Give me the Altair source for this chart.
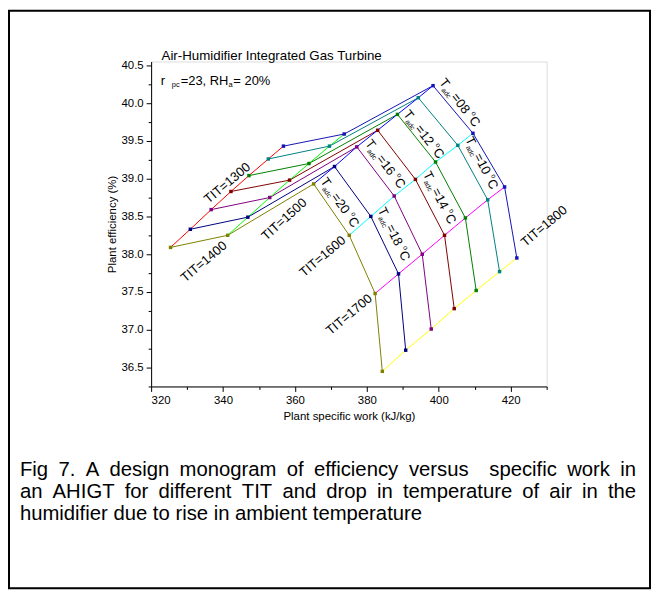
import altair as alt
import pandas as pd

# ---------------- data ----------------
tit_levels = [1300, 1400, 1500, 1600, 1700, 1800]
tadc_levels = [8, 10, 12, 14, 16, 18, 20]

# plant specific work (kJ/kg) and efficiency (%) per TIT, ordered by T_adc 8..20
work_1300 = [356.8, 352.6, 347.2, 342.2, 336.7, 330.9, 325.4]
eff_1300 = [39.43, 39.26, 39.04, 38.83, 38.59, 38.33, 38.09]
work_1400 = [373.7, 369.6, 363.9, 358.5, 353.0, 346.9, 341.3]
eff_1400 = [39.59, 39.43, 39.20, 38.98, 38.75, 38.49, 38.25]
work_1500 = [398.4, 394.3, 388.5, 383.0, 377.2, 371.0, 365.2]
eff_1500 = [40.23, 40.07, 39.85, 39.64, 39.42, 39.16, 38.93]
work_1600 = [409.5, 405.3, 399.1, 393.5, 387.6, 381.1, 375.1]
eff_1600 = [39.60, 39.44, 39.22, 38.99, 38.77, 38.50, 38.25]
work_1700 = [418.3, 413.6, 407.4, 401.6, 395.4, 388.8, 382.3]
eff_1700 = [38.89, 38.72, 38.48, 38.25, 38.00, 37.74, 37.48]
work_1800 = [421.7, 416.9, 410.4, 404.3, 397.9, 390.8, 384.3]
eff_1800 = [37.95, 37.77, 37.52, 37.28, 37.01, 36.73, 36.45]

tit_colors = ["#FF0000", "#00FF00", "#0000FF", "#00FFFF", "#FF00FF", "#FFFF00"]
tadc_colors = ["#1414B4", "#008080", "#008000", "#800000", "#800080", "#000080", "#808000"]

# label annotations (data coordinates)
tit_label_work = [341.2, 334.7, 357.0, 367.7, 375.1, 429.3]
tit_label_eff = [38.94, 37.90, 38.46, 37.97, 37.20, 38.37]
tit_label_angle = [320, 320, 318, 320, 320, 320]

tadc_label_work = [401.0, 408.4, 391.0, 396.7, 380.4, 384.1, 368.0]
tadc_label_eff = [40.31, 39.55, 39.89, 39.09, 39.50, 38.61, 39.00]
tadc_label_angle = [52, 63, 52, 63, 53, 64, 55]

title_line = "Air-Humidifier Integrated Gas Turbine"
caption_lines = [
    "Fig 7. A design monogram of efficiency versus  specific work in",
    "an AHIGT for different TIT and drop in temperature of air in the",
    "humidifier due to rise in ambient temperature",
]
caption_justify = [True, True, False]

FONT = "Liberation Sans"

# ---------------- tables ----------------
works = [work_1300, work_1400, work_1500, work_1600, work_1700, work_1800]
effs = [eff_1300, eff_1400, eff_1500, eff_1600, eff_1700, eff_1800]
rows = []
for i, t in enumerate(tit_levels):
    for j, a in enumerate(tadc_levels):
        rows.append({"tit": t, "tadc": a, "tit_key": f"TIT{t}", "tadc_key": f"T{a:02d}",
                     "work": works[i][j], "eff": effs[i][j]})
df = pd.DataFrame(rows)
tit_keys = [f"TIT{t}" for t in tit_levels]
tadc_keys = [f"T{a:02d}" for a in tadc_levels]

df_tit_lab = pd.DataFrame({"work": tit_label_work, "eff": tit_label_eff,
                           "angle": tit_label_angle,
                           "label": [f"TIT={t}" for t in tit_levels]})
df_tadc_lab = pd.DataFrame({"work": tadc_label_work, "eff": tadc_label_eff,
                            "angle": tadc_label_angle,
                            "num": [f"={a:02d}" for a in tadc_levels]})
df_head = pd.DataFrame({"work": [322.9], "eff": [40.625]})
df_sub = pd.DataFrame({"work": [322.7], "eff": [40.29]})
df_one = pd.DataFrame({"k": [0]})

# ---------------- scales & axes ----------------
xs = alt.Scale(domain=[320, 430], nice=False, zero=False)
ys = alt.Scale(domain=[36.25, 40.55], nice=False, zero=False)

x_axis = alt.Axis(
    values=list(range(320, 431, 10)),
    labelExpr="datum.value % 20 == 0 ? datum.label : ''",
    tickSize={"condition": {"test": "datum.value % 20 != 0", "value": 3}, "value": 5},
    labelFontSize=11.5, titleFontSize=11.5, labelFont=FONT, titleFont=FONT,
    titleFontWeight="normal", labelColor="black", titleColor="black",
    domainColor="black", tickColor="black", grid=False, labelPadding=3,
    titlePadding=5, labelOverlap=False, format="d",
)
y_axis = alt.Axis(
    values=[36.25 + 0.25 * k for k in range(18)],
    labelExpr="(datum.value * 2) % 1 == 0 ? format(datum.value, '.1f') : ''",
    tickSize={"condition": {"test": "(datum.value * 2) % 1 != 0", "value": 3}, "value": 5},
    labelFontSize=11.5, titleFontSize=11.5, labelFont=FONT, titleFont=FONT,
    titleFontWeight="normal", labelColor="black", titleColor="black",
    domainColor="black", tickColor="black", grid=False, labelPadding=3,
    titlePadding=3, labelOverlap=False,
)
X = alt.X("work:Q", scale=xs, axis=x_axis, title="Plant specific work (kJ/kg)")
Y = alt.Y("eff:Q", scale=ys, axis=y_axis, title="Plant efficiency (%)")

# ---------------- layers ----------------
tit_lines = alt.Chart(df).mark_line(strokeWidth=1, clip=False).encode(
    x=X, y=Y,
    color=alt.Color("tit_key:N", scale=alt.Scale(domain=tit_keys, range=tit_colors), legend=None),
    detail="tit_key:N", order="tadc:Q",
)
tadc_lines = alt.Chart(df).mark_line(strokeWidth=1, clip=False).encode(
    x=X, y=Y,
    color=alt.Color("tadc_key:N", scale=alt.Scale(domain=tadc_keys, range=tadc_colors), legend=None),
    detail="tadc_key:N", order="tit:Q",
)
pts = alt.Chart(df).mark_square(size=12, opacity=1).encode(
    x=X, y=Y,
    color=alt.Color("tadc_key:N", scale=alt.Scale(domain=tadc_keys, range=tadc_colors), legend=None),
)

tit_text = alt.Chart(df_tit_lab).mark_text(
    font=FONT, fontSize=13, align="center", baseline="middle", color="black"
).encode(x=X, y=Y, text="label:N", angle=alt.Angle("angle:Q", scale=None))

def piece(text=None, field=None, size=13, dx=0, dy=0):
    kw = dict(font=FONT, fontSize=size, align="left", baseline="alphabetic",
              color="black", dx=dx, dy=dy)
    if text is not None:
        kw["text"] = text
    m = alt.Chart(df_tadc_lab).mark_text(**kw)
    enc = dict(x=X, y=Y, angle=alt.Angle("angle:Q", scale=None))
    if field is not None:
        enc["text"] = alt.Text(field)
    return m.encode(**enc)

B = 4.6
tadc_text = [
    piece(text="T", dx=0, dy=B),
    piece(text="adc", size=7, dx=7.5, dy=B + 3),
    piece(field="num:N", dx=19, dy=B),
    piece(text="o", size=7, dx=44.5, dy=B - 6.5),
    piece(text="C", dx=48.5, dy=B),
]

def htext(df_, text, size, dx=0, dy=0):
    return alt.Chart(df_).mark_text(
        text=text, font=FONT, fontSize=size, align="left", baseline="middle",
        color="black", dx=dx, dy=dy
    ).encode(x=X, y=Y)

head = [
    htext(df_head, title_line, 13.4),
    htext(df_sub, "r", 13, 0),
    htext(df_sub, "pc", 7.5, 11, 4),
    htext(df_sub, "=23, RH", 13, 20),
    htext(df_sub, "a", 7.5, 68, 4),
    htext(df_sub, "= 20%", 13, 73),
]

# ---------------- justified caption (Arial/Liberation advance widths) ----------------
ADV = {" ": 278, ".": 278, "7": 556, "A": 667, "F": 611, "G": 778, "H": 722, "I": 278,
       "T": 611, "a": 556, "b": 556, "c": 500, "d": 556, "e": 556, "f": 278, "g": 556,
       "h": 556, "i": 222, "k": 500, "m": 833, "n": 556, "o": 556, "p": 556, "r": 333,
       "s": 500, "t": 278, "u": 556, "v": 500, "w": 722, "y": 500}
CAP_SIZE = 20.4
CAP_LEFT = 20 - 152      # relative to plot origin
CAP_WIDTH = 620
CAP_TOP = 471 - 60
CAP_LEAD = 22


def tw(s):
    return sum(ADV.get(ch, 556) for ch in s) * CAP_SIZE / 1000.0


caption = []
for li, line in enumerate(caption_lines):
    y_line = CAP_TOP + CAP_LEAD * li
    if not caption_justify[li]:
        caption.append(alt.Chart(df_one).mark_text(
            text=line, font=FONT, fontSize=CAP_SIZE, align="left", baseline="middle",
            color="black").encode(x=alt.value(CAP_LEFT), y=alt.value(y_line)))
        continue
    toks = line.split(" ")
    nsp = len(toks) - 1
    extra = (CAP_WIDTH - tw(line)) / nsp
    xcur = CAP_LEFT
    for tok in toks:
        if tok:
            caption.append(alt.Chart(df_one).mark_text(
                text=tok, font=FONT, fontSize=CAP_SIZE, align="left", baseline="middle",
                color="black").encode(x=alt.value(xcur), y=alt.value(y_line)))
        xcur += tw(tok) + tw(" ") + extra

frame = alt.Chart(df_one).mark_rect(
    fill=None, stroke="black", strokeWidth=2
).encode(x=alt.value(-143), x2=alt.value(502), y=alt.value(-51), y2=alt.value(530))

chart = alt.layer(
    frame, tadc_lines, tit_lines, pts, tit_text, *tadc_text, *head, *caption
).resolve_scale(color="independent").properties(
    width=398, height=327,
    autosize=alt.AutoSizeParams(type="none"),
    padding={"left": 144, "top": 52, "right": 107, "bottom": 205},
).configure_view(stroke=None).configure(background="white")

chart.save("out.html", embed_options={"renderer": "svg", "actions": False})
